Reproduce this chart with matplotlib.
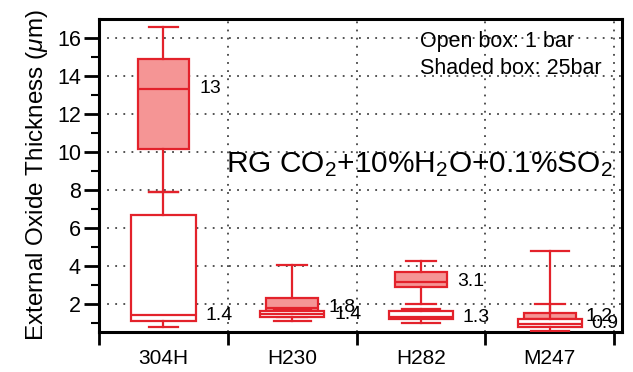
import matplotlib
matplotlib.use("Agg")
import matplotlib.pyplot as plt
from matplotlib.ticker import MultipleLocator

plt.rcParams['font.family'] = ['Liberation Sans', 'DejaVu Sans']
plt.rcParams['mathtext.fontset'] = 'custom'
plt.rcParams['mathtext.rm'] = 'Liberation Sans'
plt.rcParams['mathtext.it'] = 'Liberation Sans:italic'

categories = ['304H', 'H230', 'H282', 'M247']

# Open box: 1 bar
open_whislo = [0.79, 1.10, 1.00, 0.55]
open_q1     = [1.10, 1.30, 1.20, 0.79]
open_med    = [1.40, 1.45, 1.30, 0.95]
open_q3     = [6.68, 1.65, 1.60, 1.21]
open_whishi = [7.90, 1.70, 1.75, 4.80]
open_labels = ['1.4', '1.4', '1.3', '0.9']

# Shaded box: 25 bar
sh_whislo = [7.90, 1.30, 2.00, 0.90]
sh_q1     = [10.13, 1.60, 2.88, 1.00]
sh_med    = [13.30, 1.80, 3.17, 1.20]
sh_q3     = [14.88, 2.30, 3.65, 1.53]
sh_whishi = [16.58, 4.05, 4.28, 2.00]
sh_labels = ['13', '1.8', '3.1', '1.2']
sh_label_y = [13.30, 1.80, 3.17, 1.33]

edge = '#e3222b'
fill = '#f59595'

fig = plt.figure(figsize=(6.33, 3.72), dpi=100)
ax = fig.add_axes([99/633, 1-332/372, (622-99)/633, (332-19)/372])

pos = [i + 0.5 for i in range(len(categories))]

def stats(lo, q1, med, q3, hi):
    return [dict(whislo=a, q1=b, med=c, q3=d, whishi=e, fliers=[])
            for a, b, c, d, e in zip(lo, q1, med, q3, hi)]

lw = 1.6
ax.bxp(stats(sh_whislo, sh_q1, sh_med, sh_q3, sh_whishi), positions=pos,
       widths=0.40, capwidths=0.23, patch_artist=True, showfliers=False,
       boxprops=dict(facecolor=fill, edgecolor=edge, linewidth=lw),
       medianprops=dict(color=edge, linewidth=lw),
       whiskerprops=dict(color=edge, linewidth=lw),
       capprops=dict(color=edge, linewidth=lw), manage_ticks=False, zorder=3)
ax.bxp(stats(open_whislo, open_q1, open_med, open_q3, open_whishi), positions=pos,
       widths=0.50, capwidths=[0.23, 0.29, 0.29, 0.29], patch_artist=True, showfliers=False,
       boxprops=dict(facecolor='white', edgecolor=edge, linewidth=lw),
       medianprops=dict(color=edge, linewidth=lw),
       whiskerprops=dict(color=edge, linewidth=lw),
       capprops=dict(color=edge, linewidth=lw), manage_ticks=False, zorder=4)

for p, t, y in zip(pos, sh_labels, sh_label_y):
    ax.text(p + 0.28, y, t, ha='left', va='center', fontsize=14, zorder=6)
for p, t, y in zip(pos, open_labels, open_med):
    ax.text(p + 0.325, y, t, ha='left', va='center', fontsize=14, zorder=6)

ax.set_xlim(0, 4.06)
ax.set_ylim(0.52, 16.98)

ax.set_xticks([0, 1, 2, 3, 4])
ax.set_xticklabels([])
ax.set_xticks(pos, categories, minor=True)
ax.tick_params(axis='x', which='major', direction='out', length=9, width=2)
ax.tick_params(axis='x', which='minor', length=0, labelsize=15, pad=12)

ax.yaxis.set_major_locator(MultipleLocator(2))
ax.yaxis.set_minor_locator(MultipleLocator(1))
ax.tick_params(axis='y', which='major', direction='out', length=11, width=2, labelsize=15.5, pad=2)
ax.tick_params(axis='y', which='minor', direction='out', length=6, width=1.5)

ax.grid(True, which='major', linestyle=(0, (1, 3.5)), color='#444444', linewidth=1.3, zorder=0)
ax.set_axisbelow(True)

for s in ax.spines.values():
    s.set_linewidth(2.2)

ax.set_ylabel(r'External Oxide Thickness ($\mathit{\mu}$m)', fontsize=17.5, labelpad=5)

ax.text(0.983, 9.3, r'RG CO$_2$+10%H$_2$O+0.1%SO$_2$', transform=ax.get_yaxis_transform(),
        ha='right', va='center', fontsize=21.5, zorder=6)
ax.text(420, 372-42, 'Open box: 1 bar', transform=None, ha='left', va='center', fontsize=15.5, zorder=6)
ax.text(420, 372-68, 'Shaded box: 25bar', transform=None, ha='left', va='center', fontsize=15.5, zorder=6)

fig.savefig('out.png', dpi=100)
